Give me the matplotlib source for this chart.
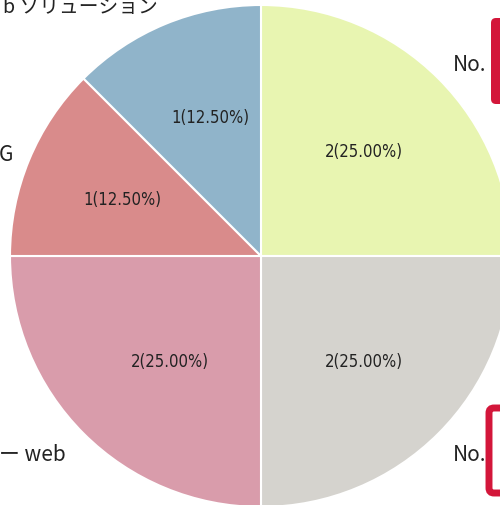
import matplotlib
matplotlib.use('Agg')
import matplotlib.pyplot as plt
from matplotlib.patches import FancyBboxPatch

plt.rcParams['font.family'] = ['Noto Sans CJK JP', 'DejaVu Sans']

# slices, clockwise from 12 o'clock
counts = [2, 2, 2, 1, 1]
colors = ['#E8F5B1', '#D5D3CE', '#D99CAB', '#D98B8B', '#90B4CA']
outer_labels = ['No.', 'No.', 'ー web', 'G', 'b ソリューション']

W, H = 500, 506
cx, cy, r = 261, H - 257, 251

fig = plt.figure(figsize=(W / 100, H / 100), dpi=100)
ax = fig.add_axes([0, 0, 1, 1])

total = sum(counts)
wedges, texts = ax.pie(counts, colors=colors, startangle=90, counterclock=False,
                       center=(cx, cy), radius=r, frame=True,
                       wedgeprops=dict(edgecolor='white', linewidth=1.5))
ax.set_xlim(0, W)
ax.set_ylim(0, H)
ax.axis('off')

# inner labels (value and percent)
inner_pos = [(364, 152), (364, 362), (170, 362), (122, 200), (210, 118)]
for (x, y), c in zip(inner_pos, counts):
    ax.text(x, H - y, f'{c}({c / total * 100:.2f}%)', ha='center', va='center',
            fontsize=12, color='#222222', family=['DejaVu Sans'], stretch='condensed')

# outer labels (cropped at the image edges)
out_pos = [(486, 65), (486, 455), (66, 455), (13, 155), (158, 7)]
out_size = [15, 15, 15, 15, 14.2]
for (x, y), lab, fs in zip(out_pos, outer_labels, out_size):
    ax.text(x, H - y, lab, ha='right', va='center', fontsize=fs, color='#222222')

# red highlight boxes at the right edge
ax.add_patch(FancyBboxPatch((491, H - 105), 30, 86, boxstyle='round,pad=0,rounding_size=5',
                            facecolor='#D3163A', edgecolor='none'))
ax.add_patch(FancyBboxPatch((489, H - 494), 30, 85, boxstyle='round,pad=0,rounding_size=5',
                            facecolor='white', edgecolor='#D3163A', linewidth=5))

fig.savefig('out.png', dpi=100)
